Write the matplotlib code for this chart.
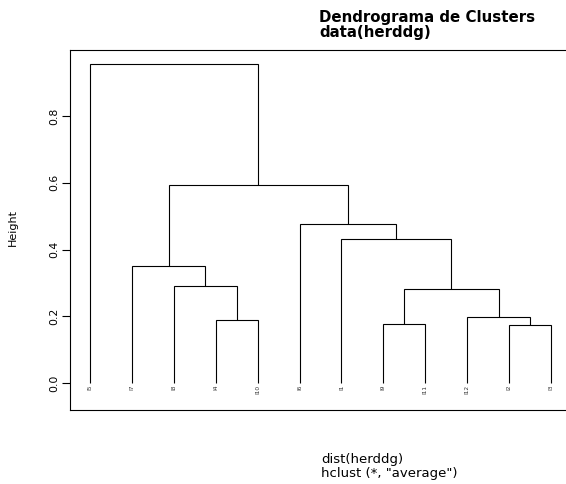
import matplotlib
matplotlib.use("Agg")
import matplotlib.pyplot as plt

# Leaf order (left to right)
leaf_labels = ["I5", "I7", "I8", "I4", "I10", "I6", "I1", "I9", "I11", "I12", "I2", "I3"]
# Merge structure (average linkage): name, left child, right child, height
merge_names = ["A", "B", "C", "D", "E", "F", "G", "H", "J", "K", "L"]
merge_left = ["I4", "I8", "I7", "I9", "I2", "I12", "D", "I1", "I6", "C", "I5"]
merge_right = ["I10", "A", "B", "I11", "I3", "E", "F", "G", "H", "J", "K"]
merge_heights = [0.189, 0.291, 0.351, 0.177, 0.174, 0.198, 0.282, 0.431, 0.476, 0.593, 0.956]

yticks = [0.0, 0.2, 0.4, 0.6, 0.8]

fig = plt.figure(figsize=(5.66, 4.84), dpi=100)
ax = fig.add_axes([70 / 566, 74 / 484, 501 / 566, 360 / 484])

pos = {lab: i + 1 for i, lab in enumerate(leaf_labels)}
hgt = {lab: 0.0 for lab in leaf_labels}
lw = 0.8
for name, l, r, h in zip(merge_names, merge_left, merge_right, merge_heights):
    xl, xr = pos[l], pos[r]
    ax.plot([xl, xl, xr, xr], [hgt[l], h, h, hgt[r]], color="black", lw=lw,
            solid_capstyle="butt", solid_joinstyle="miter")
    pos[name] = (xl + xr) / 2
    hgt[name] = h

for lab in leaf_labels:
    ax.text(pos[lab], -0.006, lab, rotation=90, ha="center", va="top",
            fontsize=4.2, color="#333333")

ax.set_xlim(0.523, 12.477)
ax.set_ylim(-0.081, 0.998)
ax.set_xticks([])
ax.set_yticks(yticks)
ax.set_yticklabels([f"{v:.1f}" for v in yticks], rotation=90, va="center",
                   fontsize=7.8)
ax.tick_params(axis="y", length=6, width=0.8, pad=2)
for s in ["left", "top", "bottom"]:
    ax.spines[s].set_linewidth(0.8)
ax.spines["right"].set_visible(False)

fig.text(13 / 566, 1 - 228 / 484, "Height", rotation=90, ha="center",
         va="center", fontsize=8)

fig.text(319 / 566, 1 - 22 / 484, "Dendrograma de Clusters", ha="left",
         va="baseline", fontsize=10.8, fontweight="bold")
fig.text(319 / 566, 1 - 37 / 484, "data(herddg)", ha="left",
         va="baseline", fontsize=10.8, fontweight="bold")
fig.text(321 / 566, 1 - 463 / 484, "dist(herddg)", ha="left",
         va="baseline", fontsize=9.5)
fig.text(321 / 566, 1 - 477 / 484, 'hclust (*, "average")', ha="left",
         va="baseline", fontsize=9.5)

fig.savefig("out.png", dpi=100)
